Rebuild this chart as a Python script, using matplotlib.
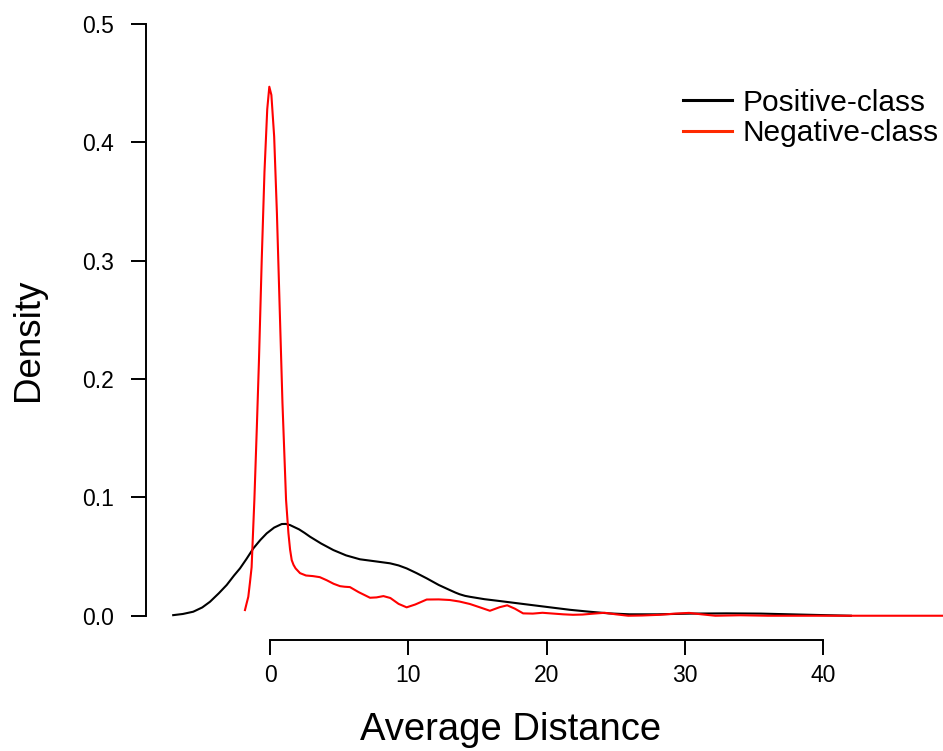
"""
Density of average distance for the positive and negative class.
"""

import matplotlib
matplotlib.use('Agg')
import matplotlib.pyplot as plt
from matplotlib.lines import Line2D

# Positive-class density
pos_x = [-7.0, -6.3, -5.55, -4.9, -4.34, -3.7, -3.13, -2.6, -2.17, -1.7,
         -1.2, -0.7, -0.24, 0.3, 0.85, 1.15, 1.45, 2.1, 2.5, 2.89, 3.7, 4.58,
         5.5, 6.5, 7.6, 8.68, 9.3, 9.88, 10.6, 11.33, 12.2, 13.0, 13.4, 13.7,
         14.1, 14.46, 15.5, 16.63, 18.4, 20.25, 21.7, 23.1, 24.5, 26.0, 28.0,
         30.4, 33.0, 35.5, 38.3, 40.5, 42.0]
pos_y = [0.0005, 0.0015, 0.0034, 0.007, 0.0118, 0.019, 0.026, 0.034, 0.040, 0.048,
         0.057, 0.064, 0.0696, 0.0745, 0.0775, 0.0776, 0.0766, 0.073, 0.070, 0.0668,
         0.061, 0.0555, 0.051, 0.0477, 0.046, 0.0443, 0.0425, 0.040, 0.036, 0.0316,
         0.026, 0.0217, 0.0196, 0.0182, 0.0168, 0.016, 0.014, 0.0124, 0.0098, 0.0071,
         0.005, 0.0034, 0.002, 0.0012, 0.0012, 0.0018, 0.002, 0.0018, 0.001, 0.0004,
         0.0]

# Negative-class density
neg_x = [-1.81, -1.7, -1.57, -1.45, -1.33, -1.13, -0.95, -0.8, -0.6, -0.4,
         -0.2, -0.05, 0.1, 0.3, 0.5, 0.7, 0.9, 1.16, 1.33, 1.45, 1.57,
         1.7, 1.85, 2.17, 2.6, 3.1, 3.6, 4.1, 4.6, 5.06, 5.4, 5.78, 6.4,
         7.23, 7.7, 8.2, 8.7, 9.3, 9.88, 10.5, 11.33, 12.2, 13.0,
         13.7, 14.46, 15.2, 15.9, 16.6, 17.15, 17.7, 18.3, 19.0, 19.7,
         20.5, 21.2, 21.9, 22.6, 23.4, 24.2, 25.0, 25.9, 26.9, 28.2,
         29.3, 30.3, 31.2, 32.2, 34.0, 36.0, 40.0, 44.0, 48.9]
neg_y = [0.0048, 0.010, 0.016, 0.028, 0.041, 0.098, 0.160, 0.215, 0.300, 0.375,
         0.428, 0.447, 0.440, 0.405, 0.340, 0.260, 0.180, 0.098, 0.070, 0.056, 0.047,
         0.043, 0.040, 0.036, 0.034, 0.0335, 0.0326, 0.030, 0.027, 0.025, 0.0245, 0.0242,
         0.020, 0.0152, 0.0155, 0.0166, 0.015, 0.010, 0.0071, 0.0095, 0.0137, 0.0138,
         0.0133, 0.012, 0.0099, 0.007, 0.0042, 0.0072, 0.0088, 0.006, 0.002, 0.0018,
         0.0025, 0.0018, 0.0012, 0.0008, 0.001, 0.0018, 0.0025, 0.0012, 0.0, 0.0002,
         0.0008, 0.0018, 0.0024, 0.0012, 0.0, 0.0004, 0.0, 0.0, 0.0, 0.0]

x_ticks = [0, 10, 20, 30, 40]
y_ticks = [0.0, 0.1, 0.2, 0.3, 0.4, 0.5]
y_tick_labels = ['0.0', '0.1', '0.2', '0.3', '0.4', '0.5']
labels = ['Positive-class', 'Negative-class']


def main():
    plt.rcParams['font.family'] = ['Liberation Sans', 'DejaVu Sans']
    W, H = 943, 751
    fig = plt.figure(figsize=(W / 100, H / 100), dpi=100)
    # plot region: left spine at x=146px, bottom spine at y=640px
    ax = fig.add_axes([146 / W, (H - 640) / H, (W - 146) / W, 640 / H])

    ax.plot(pos_x, pos_y, color='black', lw=1.5)
    ax.plot(neg_x, neg_y, color='red', lw=1.5)

    ax.set_xlim(-8.966, 48.66)
    ax.set_ylim(-0.0205, 0.5203)

    for s in ['top', 'right']:
        ax.spines[s].set_visible(False)
    ax.spines['left'].set_bounds(0, 0.5)
    ax.spines['bottom'].set_bounds(0, 40)
    ax.spines['left'].set_linewidth(1.4)
    ax.spines['bottom'].set_linewidth(1.4)

    ax.set_xticks(x_ticks)
    ax.set_yticks(y_ticks)
    ax.set_yticklabels(y_tick_labels)
    ax.tick_params(axis='both', direction='out', length=11, width=1.4,
                   labelsize=16.5)
    ax.tick_params(axis='y', pad=12)
    ax.tick_params(axis='x', pad=6)

    ax.set_xlabel('Average Distance', fontsize=27.5)
    ax.set_ylabel('Density', fontsize=26.5)
    ax.xaxis.set_label_coords((511 - 146) / 797, -72 / 640)
    ax.yaxis.set_label_coords((46 - 146) / 797, (640 - 340) / 640)

    handles = [Line2D([], [], color='black', lw=2.2),
               Line2D([], [], color='#ff2a00', lw=2.2)]
    fig.legend(handles, labels, loc='upper left', frameon=False,
               bbox_to_anchor=(671 / W, 1 - 77 / H), fontsize=21.5,
               handlelength=1.65, handletextpad=0.35, labelspacing=0.08,
               borderaxespad=0)

    fig.savefig('out.png', dpi=100)


if __name__ == '__main__':
    main()
